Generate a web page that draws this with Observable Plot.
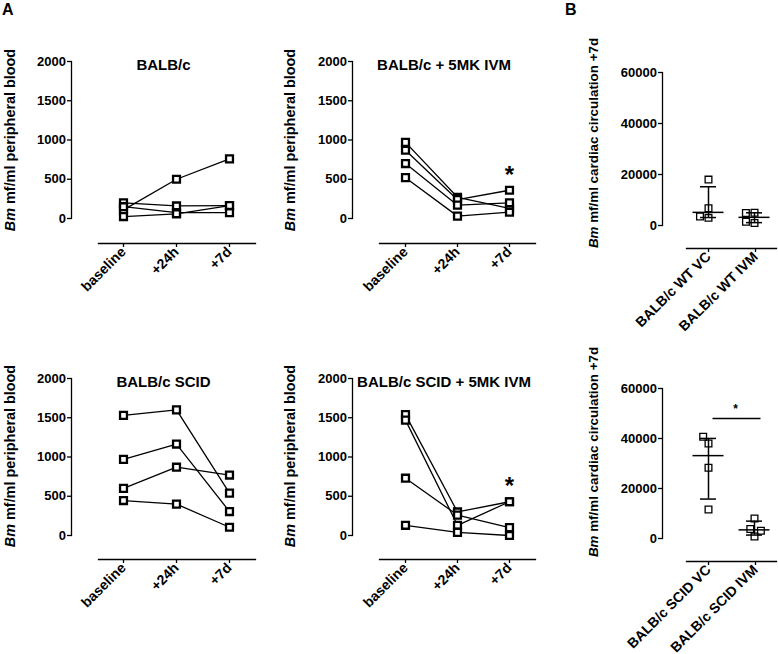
<!DOCTYPE html>
<html><head><meta charset="utf-8">
<script src="https://cdn.jsdelivr.net/npm/d3@7"></script>
<script src="https://cdn.jsdelivr.net/npm/@observablehq/plot@0.6"></script>
<style>
body{margin:0;background:#fff;overflow:hidden}
#fig{position:relative;width:778px;height:654px;font-family:"Liberation Sans",Arial,sans-serif;color:#000;background:#fff}
#fig svg{position:absolute}
.ylab{position:absolute;white-space:nowrap;font-weight:bold;transform:translate(-50%,-50%) rotate(-90deg);line-height:1}
.letter{position:absolute;font-weight:bold;font-size:16px;line-height:1}
</style></head><body><div id="fig"></div>
<script>
// ---------- data ----------
const timepoints = ["baseline", "+24h", "+7d"];
const titlesA = ["BALB/c", "BALB/c + 5MK IVM", "BALB/c SCID", "BALB/c SCID + 5MK IVM"];
// each inner array = one mouse: [baseline, +24h, +7d]  (Bm mf/ml peripheral blood)
const balbc    = [[110, 500, 760], [200, 160, 165], [150, 75, 75], [25, 60, 165]];
const balbcIvm = [[970, 270, 130], [870, 240, 360], [700, 170, 200], [520, 30, 80]];
const scid     = [[1530, 1600, 540], [970, 1165, 305], [600, 870, 770], [445, 400, 105]];
const scidIvm  = [[1540, 300, 430], [1470, 130, 430], [730, 260, 100], [130, 40, 0]];
const starredA = [null, "+7d", null, "+7d"];
const yTicksA = [0, 500, 1000, 1500, 2000];

const wtGroups = ["BALB/c WT VC", "BALB/c WT IVM"];
const wtVC  = [18000, 3000, 6800, 3500];
const wtIVM = [5000, 1000, 4900, 1500];
const scidGroups = ["BALB/c SCID VC", "BALB/c SCID IVM"];
const scidVC  = [28300, 11600, 38000, 40700];
const scidIVM = [8000, 800, 3800, 3100];
const scidSig = {from: "BALB/c SCID VC", to: "BALB/c SCID IVM", y: 48000, label: "*"};
const yTicksB = [0, 20000, 40000, 60000];

// ---------- helpers ----------
const fig = document.getElementById("fig");
const fmt = d3.format("d");
const baseStyle = {background: "none", overflow: "visible", maxWidth: "none", fontFamily: "'Liberation Sans', Arial, sans-serif", color: "black"};
function place(svg, left, top) { svg.style.left = left + "px"; svg.style.top = top + "px"; fig.appendChild(svg); }
function yLabel(html, x, y, size) {
  const d = document.createElement("div"); d.className = "ylab"; d.innerHTML = html;
  d.style.left = x + "px"; d.style.top = y + "px"; d.style.fontSize = size + "px"; fig.appendChild(d);
}
function letter(t, x, y) { const d = document.createElement("div"); d.className = "letter"; d.textContent = t; d.style.left = x + "px"; d.style.top = y + "px"; fig.appendChild(d); }
// GraphPad-style percentile (position p*(n+1))
function q(arr, p) {
  const s = arr.slice().sort((a, b) => a - b), n = s.length, h = p * (n + 1) - 1, lo = Math.floor(h);
  if (lo < 0) return s[0]; if (lo >= n - 1) return s[n - 1];
  return s[lo] + (h - lo) * (s[lo + 1] - s[lo]);
}

// ---------- panel A (line plots) ----------
const layoutA = [
  {data: balbc,    left: 0,   top: 0,   height: 300, mT: 61, mB: 57, mL: 71, xr: [123, 229], yr: [218, 61]},
  {data: balbcIvm, left: 280, top: 0,   height: 300, mT: 61, mB: 57, mL: 72, xr: [124, 229], yr: [218, 61]},
  {data: scid,     left: 0,   top: 300, height: 354, mT: 78, mB: 95, mL: 71, xr: [123, 229], yr: [235, 78]},
  {data: scidIvm,  left: 280, top: 300, height: 354, mT: 78, mB: 95, mL: 72, xr: [124, 229], yr: [235, 78]}
];
layoutA.forEach((L, k) => {
  const rows = L.data.flatMap((vals, s) => vals.map((v, i) => ({subject: s, time: timepoints[i], value: v})));
  const frameBottom = L.height - L.mB;
  const marks = [
    Plot.frame({anchor: "left", insetBottom: frameBottom - L.yr[0], strokeWidth: 1.3}),
    Plot.frame({anchor: "bottom", insetLeft: L.xr[0] - L.mL - 25, strokeWidth: 1.3}),
    Plot.axisY({ticks: yTicksA, tickFormat: fmt, tickSize: 4, tickPadding: 1.5, fontSize: 13, fontWeight: "bold", label: null, strokeWidth: 1.3}),
    Plot.axisX({tickSize: 4, tickPadding: 2, tickRotate: -45, fontSize: 14, fontWeight: "bold", label: null, strokeWidth: 1.3}),
    Plot.line(rows, {x: "time", y: "value", z: "subject", stroke: "black", strokeWidth: 1.3}),
    Plot.dot(rows, {x: "time", y: "value", symbol: "square", r: 3.9, stroke: "black", strokeWidth: 2.3, fill: "white"}),
    Plot.text([titlesA[k]], {text: d => d, frameAnchor: "top", lineAnchor: "top", dy: -2, fontSize: 15, fontWeight: "bold"})
  ];
  if (starredA[k]) {
    const t = starredA[k];
    const star = [{time: t, value: d3.max(rows.filter(r => r.time === t), r => r.value), label: "*"}];
    marks.push(Plot.text(star, {x: "time", y: "value", text: "label", dy: -15, fontSize: 24, fontWeight: "bold"}));
  }
  const svg = Plot.plot({
    width: 260, height: L.height, marginLeft: L.mL, marginRight: 5, marginTop: L.mT, marginBottom: L.mB,
    x: {domain: timepoints, range: L.xr, padding: 0},
    y: {domain: [0, 2000], range: L.yr},
    style: baseStyle, marks
  });
  place(svg, L.left, L.top);
});

// ---------- panel B (scatter with median + IQR) ----------
const layoutB = [
  {groups: wtGroups,   values: [wtVC, wtIVM],     top: 0,   height: 330, mT: 72, mB: 82, yr: [225, 72], sig: null},
  {groups: scidGroups, values: [scidVC, scidIVM], top: 300, height: 354, mT: 88, mB: 93, yr: [238, 88], sig: scidSig}
];
layoutB.forEach(L => {
  const frameBottom = L.height - L.mB;
  const axes = Plot.plot({
    width: 172, height: L.height, marginLeft: 56, marginRight: 0, marginTop: L.mT, marginBottom: L.mB,
    x: {domain: L.groups, range: [102, 149], padding: 0},
    y: {domain: [0, 60000], range: L.yr},
    style: baseStyle,
    marks: [
      Plot.frame({anchor: "left", insetBottom: frameBottom - L.yr[0], strokeWidth: 1.3}),
      Plot.frame({anchor: "bottom", insetLeft: 24, insetRight: 2, strokeWidth: 1.3}),
      Plot.axisY({ticks: yTicksB, tickFormat: fmt, tickSize: 4, tickPadding: 1.5, fontSize: 13, fontWeight: "bold", label: null, strokeWidth: 1.3}),
      Plot.axisX({tickSize: 4, tickPadding: 2, tickRotate: -45, fontSize: 14, fontWeight: "bold", label: null, strokeWidth: 1.3})
    ]
  });
  place(axes, 606, L.top);

  const rows = L.groups.flatMap((g, i) => L.values[i].map(v => ({group: g, value: v})));
  const summary = L.groups.map((g, i) => ({group: g, median: q(L.values[i], 0.5), q1: q(L.values[i], 0.25), q3: q(L.values[i], 0.75)}));
  const marks = [
    // x = 0 is the centre of each group's facet (x scale domain [-1, 1])
    Plot.ruleX(summary, {fx: "group", x: () => 0, y1: "q1", y2: "q3", strokeWidth: 1.5}),
    Plot.ruleY(summary, {fx: "group", y: "median", insetLeft: 7.5, insetRight: 7.5, strokeWidth: 1.5}),
    Plot.ruleY(summary, {fx: "group", y: "q1", insetLeft: 15, insetRight: 15, strokeWidth: 1.5}),
    Plot.ruleY(summary, {fx: "group", y: "q3", insetLeft: 15, insetRight: 15, strokeWidth: 1.5}),
    Plot.dot(rows, Plot.dodgeX("middle", {fx: "group", y: "value", r: 3.8, padding: 3, symbol: "square", stroke: "black", strokeWidth: 1.3, fill: "none"}))
  ];
  if (L.sig) {
    marks.push(Plot.ruleY([L.sig], {fx: d => d.from, y: "y", insetLeft: 27.5, insetRight: -29.5, strokeWidth: 1.3}));
    marks.push(Plot.text([L.sig], {fx: d => d.from, y: "y", text: "label", dx: 27, dy: -9, fontSize: 12, fontWeight: "bold"}));
  }
  const data = Plot.plot({
    width: 172, height: L.height, marginLeft: 78.5, marginRight: 0, marginTop: L.mT, marginBottom: L.mB,
    fx: {domain: L.groups, padding: 0, axis: null},
    x: {type: "linear", domain: [-1, 1], axis: null},
    y: {domain: [0, 60000], range: L.yr, axis: null},
    style: baseStyle, marks
  });
  place(data, 606, L.top);
});

// ---------- labels ----------
const labA = "<i>Bm</i> mf/ml peripheral blood";
const labB = "<i>Bm</i> mf/ml cardiac circulation +7d";
yLabel(labA, 10, 139.5, 14.4); yLabel(labA, 290, 139.5, 14.4);
yLabel(labA, 10, 456, 14.4);   yLabel(labA, 290, 456, 14.4);
yLabel(labB, 594, 142.5, 13.4); yLabel(labB, 594, 452, 13.4);
letter("A", 2, 2); letter("B", 565, 2);
</script></body></html>
